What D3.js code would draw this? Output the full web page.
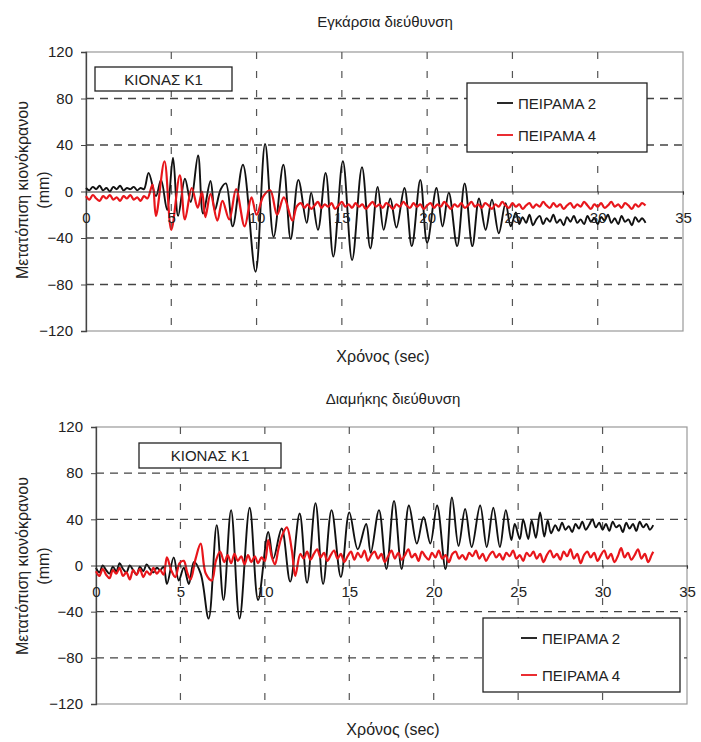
<!DOCTYPE html>
<html>
<head>
<meta charset="utf-8">
<script src="https://cdn.jsdelivr.net/npm/d3@7"></script>
<style>
  body { margin: 0; background: #fff; }
  svg text { font-family: "Liberation Sans", Arial, sans-serif; fill: #222; }
</style>
</head>
<body>
<script>
// two displacement records, transverse (top) + longitudinal (bottom):

// tick labels:
var xTicks = [0, 5, 10, 15, 20, 25, 30, 35];
var yTicks = [-120, -80, -40, 0, 40, 80, 120];
var seriesNames = ["ΠΕΙΡΑΜΑ 2", "ΠΕΙΡΑΜΑ 4"];

// transverse, test 2 [sec, mm]:
var transP2 = [[0,3],[0.2,1],[0.4,4],[0.6,2],[0.8,5],[1.0,1],[1.2,3],[1.4,0],[1.6,4],[1.8,2],[2.0,5],[2.2,1],[2.4,3],[2.6,2],[2.8,4],[3.0,1],[3.2,3],[3.4,2],
  [3.67,16],[4.1,-4],[4.4,10],[4.76,-16],[5.1,29],[5.4,-21],[5.8,11],[6.14,-9],[6.57,31],[6.86,-19],[7.3,9],[7.55,-16],[7.9,2],[8.2,7],[8.6,-30],[9.2,23],[9.94,-69],
  [10.5,41],[11.0,-39],[11.57,23],[12.0,-41],[12.45,10],[12.94,-27],[13.2,-1],[13.6,-33],[14.05,16],[14.5,-56],[15.06,26],[15.6,-59],[16.18,21],[16.67,-49],
  [17.1,4],[17.45,-33],[17.84,-6],[18.2,-31],[18.67,3],[19.1,-47],[19.6,10],[20.0,-44],[20.55,3],[20.9,-30],[21.27,-1],[21.76,-47],[22.2,7],[22.65,-47],
  [23.04,-6],[23.43,-33],[23.8,-7],[24.2,-36],[24.6,-10],[24.9,-30],[25.2,-18],
  [25.4,-28],[25.6,-22],[25.8,-27],[26.0,-20],[26.2,-29],[26.4,-24],[26.6,-21],[26.8,-28],[27.0,-23],[27.2,-26],[27.4,-20],[27.6,-27],[27.8,-24],[28.0,-29],
  [28.2,-22],[28.4,-26],[28.6,-21],[28.8,-27],[29.0,-24],[29.2,-28],[29.4,-21],[29.6,-26],[29.8,-23],[30.0,-28],[30.2,-22],[30.4,-25],[30.6,-20],[30.8,-27],
  [31.0,-23],[31.2,-28],[31.4,-21],[31.6,-26],[31.8,-24],[32.0,-29],[32.2,-22],[32.4,-26],[32.6,-23],[32.8,-27]];

// transverse, test 4:
var transP4 = [[0,-4],[0.2,-7],[0.4,-3],[0.6,-6],[0.8,-8],[1.0,-4],[1.2,-6],[1.4,-3],[1.6,-7],[1.8,-5],[2.0,-8],[2.2,-4],[2.4,-6],[2.6,-3],[2.8,-7],[3.0,-5],[3.2,-8],[3.4,-4],
  [3.6,-6],[3.9,6],[4.1,-21],[4.6,26],[5.0,-33],[5.5,14],[5.8,-24],[6.2,3],[6.55,-14],[6.8,0],[7.0,-22],[7.3,-2],[7.7,-25],[8.0,-8],[8.4,-24],[8.8,2],
  [9.3,-30],[9.7,-5],[10.0,-20],[10.4,-4],[10.8,1],[11.2,-20],[11.6,-5],[12.1,-25],[12.35,-13],
  [12.6,-10],[12.8,-14],[13.0,-11],[13.2,-15],[13.4,-12],[13.6,-9],[13.8,-14],[14.0,-11],[14.2,-13],[14.4,-10],[14.6,-15],[14.8,-12],[15.0,-9],[15.2,-13],
  [15.4,-11],[15.6,-14],[15.8,-10],[16.0,-13],[16.2,-11],[16.4,-15],[16.6,-12],[16.8,-9],[17.0,-13],[17.2,-11],[17.4,-14],[17.6,-10],[17.8,-12],[18.0,-15],
  [18.2,-11],[18.4,-13],[18.6,-9],[18.8,-12],[19.0,-14],[19.2,-10],[19.4,-13],[19.6,-11],[19.8,-15],[20.0,-12],[20.2,-10],[20.4,-14],[20.6,-11],[20.8,-13],
  [21.0,-9],[21.2,-12],[21.4,-15],[21.6,-11],[21.8,-13],[22.0,-10],[22.2,-14],[22.4,-12],[22.6,-9],[22.8,-13],[23.0,-11],[23.2,-14],[23.4,-10],[23.6,-12],
  [23.8,-15],[24.0,-11],[24.2,-13],[24.4,-9],[24.6,-12],[24.8,-14],[25.0,-10],[25.2,-13],[25.4,-11],[25.6,-15],[25.8,-12],[26.0,-10],[26.2,-14],[26.4,-11],
  [26.6,-13],[26.8,-9],[27.0,-12],[27.2,-14],[27.4,-10],[27.6,-13],[27.8,-11],[28.0,-15],[28.2,-12],[28.4,-10],[28.6,-14],[28.8,-11],[29.0,-13],[29.2,-9],
  [29.4,-12],[29.6,-15],[29.8,-11],[30.0,-13],[30.2,-10],[30.4,-14],[30.6,-12],[30.8,-9],[31.0,-13],[31.2,-11],[31.4,-14],[31.6,-10],[31.8,-12],[32.0,-15],
  [32.2,-11],[32.4,-13],[32.6,-10],[32.8,-12]];

// longitudinal, test 2:
var longP2 = [[0,-2],[0.2,-6],[0.4,0],[0.6,-4],[0.8,-7],[1.0,-1],[1.2,-5],[1.4,2],[1.6,-3],[1.8,-6],[2.0,0],[2.2,-4],[2.4,-8],[2.6,-1],[2.8,-5],[3.0,1],[3.2,-3],[3.4,-6],[3.6,-2],[3.8,-4],
  [4.0,-1],[4.2,-16],[4.6,7],[4.9,-13],[5.2,-2],[5.5,-16],[5.8,3],[6.2,-7],[6.67,-46],[7.15,35],[7.55,-30],[8.0,48],[8.5,-46],[9.1,50],[9.6,-30],
  [10.2,29],[10.5,6],[11.0,32],[11.5,-14],[12.06,45],[12.5,-15],[13.0,54],[13.45,-16],[13.95,48],[14.5,-10],[15.0,46],[15.5,14],[16.0,36],[16.27,11],
  [16.76,48],[17.2,-3],[17.65,56],[18.1,-3],[18.53,52],[19.0,19],[19.4,42],[19.8,19],[20.2,52],[20.7,-3],[21.08,59],[21.47,17],[21.86,49],[22.25,16],
  [22.75,52],[23.14,16],[23.53,50],[23.92,16],[24.27,48],[24.6,22],[24.8,36],[25.1,23],[25.3,40],[25.6,23],[25.8,39],[26.05,24],[26.3,46],[26.55,25],
  [26.75,39],[26.95,28],
  [27.2,35],[27.4,30],[27.6,37],[27.8,31],[28.0,34],[28.2,29],[28.4,36],[28.6,32],[28.8,38],[29.0,31],[29.2,35],[29.4,40],[29.6,33],[29.8,37],[30.0,31],
  [30.2,36],[30.4,30],[30.6,38],[30.8,33],[31.0,35],[31.2,29],[31.4,37],[31.6,32],[31.8,36],[32.0,30],[32.2,38],[32.4,33],[32.6,36],[32.8,31],[33.0,35]];

// longitudinal, test 4:
var longP4 = [[0,-5],[0.2,-9],[0.4,-3],[0.6,-8],[0.8,-11],[1.0,-4],[1.2,-7],[1.4,-2],[1.6,-9],[1.8,-6],[2.0,-12],[2.2,-4],[2.4,-8],[2.6,-3],[2.8,-10],[3.0,-5],[3.2,-8],[3.4,-2],[3.6,-7],[3.8,-4],
  [4.0,-8],[4.2,7],[4.45,-4],[4.7,-10],[4.95,2],[5.2,4],[5.4,-6],[5.6,-12],[5.9,6],[6.2,19],[6.5,-7],[6.86,-13],[7.1,4],[7.35,12],[7.6,3],[7.8,9],[8.0,2],
  [8.2,10],[8.4,4],[8.6,8],[8.8,1],[9.0,9],[9.2,3],[9.4,8],[9.6,2],[9.8,7],[10.0,4],[10.2,22],[10.4,8],[10.6,1],[10.8,14],[11.0,25],[11.3,33],[11.6,13],
  [11.8,-9],[12.1,10],
  [12.3,6],[12.5,12],[12.7,5],[12.9,10],[13.1,14],[13.3,7],[13.5,11],[13.7,4],[13.9,9],[14.1,13],[14.3,6],[14.5,10],[14.7,3],[14.9,8],[15.1,12],[15.3,5],
  [15.5,11],[15.7,7],[15.9,13],[16.1,4],[16.3,9],[16.5,12],[16.7,6],[16.9,10],[17.1,3],[17.3,8],[17.5,13],[17.7,6],[17.9,11],[18.1,5],[18.3,9],[18.5,14],
  [18.7,7],[18.9,10],[19.1,4],[19.3,12],[19.5,8],[19.7,5],[19.9,11],[20.1,7],[20.3,13],[20.5,6],[20.7,9],[20.9,3],[21.1,10],[21.3,12],[21.5,6],[21.7,9],
  [21.9,5],[22.1,11],[22.3,8],[22.5,13],[22.7,6],[22.9,10],[23.1,4],[23.3,9],[23.5,12],[23.7,7],[23.9,10],[24.1,5],[24.3,11],[24.5,8],[24.7,13],[24.9,6],
  [25.1,9],[25.3,4],[25.5,11],[25.7,8],[25.9,12],[26.1,6],[26.3,10],[26.5,3],[26.7,9],[26.9,13],[27.1,7],[27.3,10],[27.5,5],[27.7,12],[27.9,8],[28.1,14],
  [28.3,6],[28.5,10],[28.7,2],[28.9,9],[29.1,12],[29.3,7],[29.5,11],[29.7,4],[29.9,9],[30.1,13],[30.3,6],[30.5,10],[30.7,3],[30.9,8],[31.1,15],[31.3,7],
  [31.5,11],[31.7,5],[31.9,9],[32.1,14],[32.3,6],[32.5,10],[32.7,3],[32.9,9],[33.0,12]];

(function () {

    var svg = d3.select("body")
        .append("svg")
        .attr("width", 701)
        .attr("height", 742);

    // panel frames (layout only):
    var panels = [
        { title: "Εγκάρσια διεύθυνση", titleX: 385, titleY: 27, left: 86, right: 683, top: 52, bottom: 331,
          series: [transP2, transP4], xTitleX: 383, xTitleY: 362, yTitleY: 190,
          tag: { x: 95, y: 67, w: 137, h: 24 },
          legend: { x: 467, y: 83, w: 180, h: 69, lineX: 497, rows: [103, 135] } },
        { title: "Διαμήκης διεύθυνση", titleX: 393, titleY: 404, left: 96, right: 687, top: 427, bottom: 704,
          series: [longP2, longP4], xTitleX: 393, xTitleY: 735, yTitleY: 566,
          tag: { x: 139, y: 443, w: 142, h: 25 },
          legend: { x: 483, y: 618, w: 197, h: 74, lineX: 521, rows: [638, 675] } }
    ];
    var colors = ["#111", "#e8161b"];
    var widths = [1.9, 2.2];

    panels.forEach(function (p) { drawPanel(p); });

    function drawPanel(p) {
        var x = d3.scaleLinear().domain([0, 35]).range([p.left, p.right]);
        var y = d3.scaleLinear().domain([-120, 120]).range([p.bottom, p.top]);

        // frame:
        svg.append("rect")
            .attr("x", p.left).attr("y", p.top)
            .attr("width", p.right - p.left).attr("height", p.bottom - p.top)
            .attr("fill", "none").attr("stroke", "#999").attr("stroke-width", 1.2);

        // dashed grid:
        svg.append("g").selectAll("line")
            .data(yTicks.filter(function (d) { return d !== 0 && Math.abs(d) !== 120; }))
            .enter().append("line")
            .attr("x1", p.left).attr("x2", p.right)
            .attr("y1", function (d) { return y(d); }).attr("y2", function (d) { return y(d); })
            .attr("stroke", "#444").attr("stroke-width", 1.3).attr("stroke-dasharray", "8,6");
        svg.append("g").selectAll("line")
            .data(xTicks.filter(function (d) { return d > 0 && d < 35; }))
            .enter().append("line")
            .attr("x1", function (d) { return x(d); }).attr("x2", function (d) { return x(d); })
            .attr("y1", p.top).attr("y2", p.bottom)
            .attr("stroke", "#555").attr("stroke-width", 1.2).attr("stroke-dasharray", "7,12");

        // y axis:
        var yAxis = svg.append("g")
            .attr("transform", "translate(" + p.left + ",0)")
            .call(d3.axisLeft(y).tickValues(yTicks).tickSize(5).tickPadding(8));
        yAxis.select(".domain").attr("stroke", "#444").attr("stroke-width", 1.3);
        yAxis.selectAll("line").attr("stroke", "#444");
        yAxis.selectAll("text").style("font-size", "15px").attr("fill", "#222");

        // series (black under red):
        var line = d3.line()
            .x(function (d) { return x(d[0]); })
            .y(function (d) { return y(d[1]); })
            .curve(d3.curveCatmullRom.alpha(0.5));
        p.series.forEach(function (s, i) {
            svg.append("path")
                .datum(s)
                .attr("d", line)
                .attr("fill", "none")
                .attr("stroke", colors[i])
                .attr("stroke-width", widths[i])
                .attr("stroke-linejoin", "round");
        });

        // x axis on the zero line:
        var xAxis = svg.append("g")
            .attr("transform", "translate(0," + y(0) + ")")
            .call(d3.axisBottom(x).tickValues(xTicks).tickSize(3).tickPadding(18));
        xAxis.select(".domain").attr("stroke", "#333").attr("stroke-width", 1.1);
        xAxis.selectAll("line").attr("stroke", "#333");
        xAxis.selectAll("text").style("font-size", "15px").attr("fill", "#222");

        // titles:
        svg.append("text").attr("x", p.titleX).attr("y", p.titleY)
            .attr("text-anchor", "middle").style("font-size", "15px").text(p.title);
        svg.append("text").attr("x", p.xTitleX).attr("y", p.xTitleY)
            .attr("text-anchor", "middle").style("font-size", "16px").text("Χρόνος (sec)");
        svg.append("text")
            .attr("transform", "translate(28," + p.yTitleY + ") rotate(-90)")
            .attr("text-anchor", "middle").style("font-size", "16px").text("Μετατόπιση κιονόκρανου");
        svg.append("text")
            .attr("transform", "translate(49," + p.yTitleY + ") rotate(-90)")
            .attr("text-anchor", "middle").style("font-size", "16px").text("(mm)");

        // column tag box:
        svg.append("rect").attr("x", p.tag.x).attr("y", p.tag.y)
            .attr("width", p.tag.w).attr("height", p.tag.h)
            .attr("fill", "#fff").attr("stroke", "#222").attr("stroke-width", 1.3);
        svg.append("text").attr("x", p.tag.x + p.tag.w / 2).attr("y", p.tag.y + p.tag.h / 2 + 5.5)
            .attr("text-anchor", "middle").style("font-size", "15px").text("ΚΙΟΝΑΣ Κ1");

        // legend:
        var lg = p.legend;
        svg.append("rect").attr("x", lg.x).attr("y", lg.y)
            .attr("width", lg.w).attr("height", lg.h)
            .attr("fill", "#fff").attr("stroke", "#222").attr("stroke-width", 1.3);
        seriesNames.forEach(function (name, i) {
            svg.append("line")
                .attr("x1", lg.lineX).attr("x2", lg.lineX + 16)
                .attr("y1", lg.rows[i]).attr("y2", lg.rows[i])
                .attr("stroke", colors[i]).attr("stroke-width", 1.8);
            svg.append("text").attr("x", lg.lineX + 21).attr("y", lg.rows[i] + 5.5)
                .style("font-size", "15px").text(name);
        });
    }

})();
</script>
</body>
</html>
